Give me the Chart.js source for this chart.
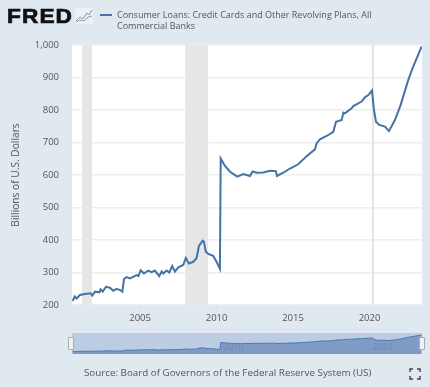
<!DOCTYPE html>
<html>
<head>
<meta charset="utf-8">
<title>Consumer Loans</title>
<script src="https://cdn.jsdelivr.net/npm/chart.js@4"></script>
<style>
  html, body { margin: 0; padding: 0; background: #e1e9f0; }
  #page { position: relative; width: 430px; height: 387px; overflow: hidden; font-family: "Open Sans", sans-serif; color: #555; }
  #page canvas { position: absolute; left: 0; }
  #logo { position: absolute; left: 7px; top: 3px; font: bold 21px/26px "Liberation Sans", sans-serif; color: #111; letter-spacing: 1px; -webkit-text-stroke: 0.7px #111; transform: scaleX(1.08); transform-origin: left; }
  #icon { position: absolute; left: 75px; top: 8px; }
  #swatch { position: absolute; left: 100px; top: 14px; width: 12px; height: 2px; background: #4572a7; }
  #legend { position: absolute; left: 117px; top: 9px; font-size: 9px; line-height: 11px; white-space: nowrap; }
  #source { position: absolute; left: 84px; top: 365px; font-size: 9.8px; line-height: 16px; white-space: nowrap; }
  .ghost { position: absolute; top: 341px; font-size: 9px; line-height: 12px; color: #7089ad; }
  .grip { position: absolute; top: 337px; width: 4px; height: 11px; background: #f2f2f2; border: 1px solid #aaa; border-radius: 1px; }
  #full { position: absolute; left: 409px; top: 368px; }
</style>
</head>
<body>
<div id="page">
  <canvas id="CHARTMAIN" width="430" height="330" style="top:0"></canvas>
  <canvas id="CHARTNAV" width="430" height="30" style="top:330px"></canvas>
  <div id="logo">FRED</div>
  <svg id="icon" width="18" height="16"><rect width="18" height="16" fill="#eef1f4"/><polyline points="1,13 5,9 8,11 12,5 14,7 17,2" fill="none" stroke="#7d98bd" stroke-width="1"/><polyline points="1,14 5,12 9,13 13,9 17,8" fill="none" stroke="#999" stroke-width="1"/></svg>
  <div id="swatch"></div>
  <div id="legend">Consumer Loans: Credit Cards and Other Revolving Plans, All<br>Commercial Banks</div>
  <span class="ghost" style="left:223px">2010</span>
  <span class="ghost" style="left:372px">2020</span>
  <div class="grip" style="left:68px"></div>
  <div class="grip" style="left:419px"></div>
  <div id="source">Source: Board of Governors of the Federal Reserve System (US)</div>
  <svg id="full" width="12" height="12" fill="none" stroke="#444" stroke-width="1.5"><path d="M1 4V1H4M8 1H11V4M11 8V11H8M4 11H1V8"/></svg>
</div>
<script>
const years = [2000.59,2000.73,2000.86,2001.07,2001.40,2001.77,2001.88,2002.05,2002.34,2002.42,2002.56,2002.77,2003.03,2003.25,2003.47,2003.69,2003.84,2003.95,2004.12,2004.34,2004.78,2004.89,2005.04,2005.25,2005.53,2005.75,2005.97,2006.25,2006.41,2006.52,2006.73,2006.91,2007.10,2007.28,2007.50,2007.82,2007.99,2008.19,2008.48,2008.69,2008.85,2009.09,2009.17,2009.30,2009.46,2009.78,2010.00,2010.22,2010.27,2010.55,2010.88,2011.35,2011.75,2012.18,2012.36,2012.62,2013.05,2013.49,2013.88,2013.95,2014.36,2014.80,2015.34,2015.89,2016.43,2016.54,2016.76,2017.20,2017.63,2017.81,2018.18,2018.29,2018.39,2018.83,2018.94,2019.48,2019.70,2019.92,2020.16,2020.29,2020.42,2020.64,2021.01,2021.27,2021.66,2022.03,2022.53,2022.81,2023.40];
const loans = [212,226,220,231,234,236,229,241,239,248,241,256,253,244,250,246,241,280,286,282,292,289,307,297,306,301,306,289,303,297,306,300,320,303,316,323,345,328,333,344,382,398,395,364,357,351,333,311,651,628,610,595,603,597,611,607,608,613,612,597,607,620,633,658,679,697,710,720,733,764,769,792,790,805,812,826,839,846,860,800,764,754,749,735,769,815,892,928,995];
const recessions = [[2001.2,2001.85],[2007.95,2009.45],[2020.15,2020.3]];
const yTicks = [200,300,400,500,600,700,800,900,1000];
const xTicks = [2005,2010,2015,2020];
const xMin = 2000.55;
const xMax = 2023.43;
const lineColor = '#4572a7';

const points = years.map((y, i) => ({ x: y, y: loans[i] }));

const plotPaint = {
  id: 'plotPaint',
  beforeDatasetsDraw(chart) {
    const { ctx, chartArea: a, scales } = chart;
    ctx.save();
    ctx.fillStyle = '#e6e6e6';
    recessions.forEach(r => {
      const x0 = scales.x.getPixelForValue(r[0]);
      const x1 = scales.x.getPixelForValue(r[1]);
      ctx.fillRect(x0, a.top, x1 - x0, a.height);
    });
    ctx.restore();
  }
};

new Chart(document.getElementById('CHARTMAIN'), {
  type: 'line',
  data: {
    datasets: [{
      label: 'Consumer Loans: Credit Cards and Other Revolving Plans, All Commercial Banks',
      data: points,
      borderColor: lineColor,
      borderWidth: 2,
      pointRadius: 0,
      tension: 0
    }]
  },
  options: {
    responsive: false,
    animation: false,
    layout: { padding: { top: 45, right: 8, left: 0, bottom: 0 } },
    plugins: { legend: { display: false }, tooltip: { enabled: false } },
    scales: {
      x: {
        type: 'linear',
        min: xMin,
        max: xMax,
        afterBuildTicks: s => { s.ticks = xTicks.map(v => ({ value: v })); },
        afterFit: s => { s.height = 25; },
        grid: { drawOnChartArea: false, drawTicks: true, tickLength: 5, tickColor: '#d8dee4' },
        border: { display: false },
        ticks: { color: '#555', font: { family: 'Open Sans', size: 9.5 }, padding: 3, maxRotation: 0, callback: v => String(v) }
      },
      y: {
        min: 200,
        max: 1000,
        afterBuildTicks: s => { s.ticks = yTicks.map(v => ({ value: v })); },
        afterFit: s => { s.width = 72; },
        grid: { color: '#eeeeee', lineWidth: 1.5, drawTicks: false },
        border: { display: false },
        ticks: { color: '#555', font: { family: 'Open Sans', size: 9.5 }, padding: 13, callback: v => v.toLocaleString('en-US') },
        title: { display: true, text: 'Billions of U.S. Dollars', color: '#555', font: { family: 'Open Sans', size: 10.2 }, padding: { top: 10, bottom: 0 } }
      }
    }
  },
  plugins: [{
    id: 'plotWhite',
    beforeDraw(chart) {
      const { ctx, chartArea: a } = chart;
      ctx.fillStyle = '#ffffff';
      ctx.fillRect(a.left, a.top, a.width, a.height);
    }
  }, plotPaint]
});

new Chart(document.getElementById('CHARTNAV'), {
  type: 'line',
  data: {
    datasets: [{
      data: points,
      borderColor: '#4f78ad',
      borderWidth: 1,
      backgroundColor: '#7f9cc6',
      fill: 'start',
      pointRadius: 0,
      tension: 0
    }]
  },
  options: {
    responsive: false,
    animation: false,
    layout: { padding: { top: 3, right: 8, left: 72, bottom: 6 } },
    plugins: { legend: { display: false }, tooltip: { enabled: false } },
    scales: {
      x: { type: 'linear', display: false, min: xMin, max: xMax },
      y: { display: false, min: 105, max: 1094 }
    }
  },
  plugins: [{
    id: 'navBand',
    beforeDraw(chart) {
      const { ctx, chartArea: a } = chart;
      ctx.fillStyle = '#bccce3';
      ctx.fillRect(a.left, a.top, a.width, a.height);
    }
  }]
});
</script>
</body>
</html>
